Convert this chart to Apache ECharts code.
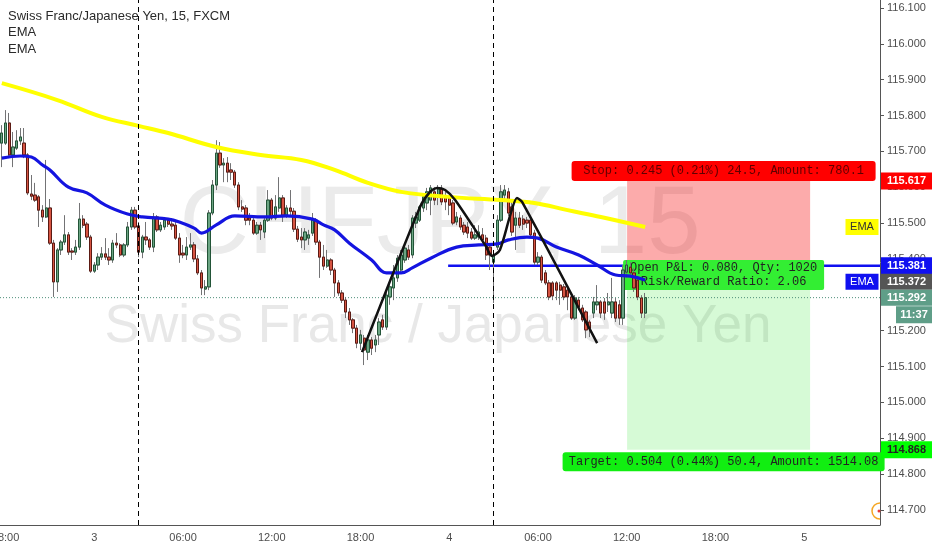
<!DOCTYPE html>
<html><head><meta charset="utf-8">
<script src="https://cdn.jsdelivr.net/npm/echarts@6/dist/echarts.min.js"></script>
<style>html,body{margin:0;padding:0;background:#fff}#c{width:932px;height:550px}</style>
</head><body><div id="c"></div>
<script>
// ---- data (CHF/JPY 15m, FXCM) ----
const open = [115.723,115.723,115.779,115.690,115.709,115.729,115.723,115.690,115.581,115.578,
115.573,115.536,115.517,115.542,115.444,115.336,115.425,115.447,115.467,115.422,
115.419,115.433,115.511,115.497,115.461,115.366,115.383,115.405,115.414,115.405,
115.397,115.444,115.439,115.411,115.439,115.489,115.536,115.492,115.419,115.461,
115.453,115.433,115.517,115.481,115.489,115.508,115.497,115.494,115.458,115.416,
115.411,115.433,115.439,115.400,115.361,115.316,115.322,115.528,115.606,115.695,
115.662,115.667,115.648,115.642,115.606,115.545,115.542,115.514,115.508,115.472,
115.494,115.475,115.508,115.564,115.514,115.542,115.570,115.522,115.542,115.533,
115.483,115.461,115.453,115.458,115.472,115.508,115.447,115.405,115.380,115.397,
115.369,115.333,115.305,115.285,115.252,115.230,115.207,115.165,115.179,115.140,
115.174,115.160,115.188,115.230,115.210,115.294,115.319,115.347,115.369,115.397,
115.425,115.411,115.500,115.508,115.542,115.556,115.564,115.587,115.578,115.595,
115.573,115.570,115.556,115.503,115.514,115.494,115.489,115.475,115.458,115.461,
115.467,115.458,115.433,115.391,115.433,115.508,115.578,115.587,115.545,115.494,
115.514,115.511,115.508,115.508,115.472,115.391,115.405,115.361,115.333,115.333,
115.333,115.327,115.322,115.313,115.294,115.235,115.285,115.263,115.252,115.224,
115.249,115.272,115.280,115.280,115.272,115.249,115.280,115.272,115.235,115.363,
115.377,115.361,115.341,115.291,115.249];
const close = [115.751,115.779,115.690,115.712,115.729,115.740,115.690,115.584,115.575,115.564,
115.536,115.517,115.542,115.444,115.336,115.425,115.447,115.467,115.419,115.419,
115.433,115.511,115.494,115.461,115.366,115.383,115.405,115.414,115.405,115.397,
115.444,115.439,115.411,115.439,115.489,115.536,115.489,115.419,115.461,115.453,
115.433,115.517,115.481,115.494,115.508,115.497,115.492,115.458,115.411,115.411,
115.433,115.439,115.400,115.361,115.319,115.322,115.528,115.606,115.695,115.662,
115.667,115.642,115.642,115.606,115.545,115.539,115.508,115.508,115.472,115.494,
115.481,115.508,115.564,115.514,115.545,115.570,115.522,115.542,115.533,115.483,
115.455,115.453,115.475,115.467,115.508,115.447,115.405,115.380,115.397,115.369,
115.333,115.305,115.285,115.252,115.230,115.207,115.165,115.188,115.146,115.174,
115.151,115.174,115.224,115.210,115.299,115.322,115.347,115.402,115.411,115.430,
115.405,115.514,115.517,115.545,115.573,115.587,115.598,115.564,115.595,115.559,
115.559,115.550,115.500,115.517,115.489,115.475,115.472,115.458,115.467,115.475,
115.453,115.411,115.411,115.411,115.508,115.587,115.592,115.528,115.475,115.514,
115.494,115.497,115.500,115.467,115.391,115.405,115.341,115.333,115.294,115.297,
115.313,115.313,115.294,115.294,115.235,115.291,115.266,115.230,115.202,115.207,
115.280,115.280,115.249,115.249,115.280,115.280,115.235,115.235,115.369,115.383,
115.361,115.319,115.294,115.249,115.292];
const low = [115.656,115.718,115.681,115.656,115.704,115.718,115.681,115.578,115.564,115.559,
115.489,115.503,115.514,115.439,115.294,115.308,115.411,115.439,115.411,115.397,
115.411,115.425,115.486,115.453,115.361,115.361,115.369,115.397,115.397,115.383,
115.389,115.430,115.405,115.405,115.433,115.481,115.483,115.405,115.402,115.439,
115.425,115.419,115.475,115.475,115.481,115.489,115.481,115.453,115.389,115.402,
115.397,115.425,115.391,115.355,115.299,115.299,115.313,115.522,115.592,115.654,
115.614,115.614,115.620,115.598,115.536,115.531,115.494,115.494,115.467,115.467,
115.453,115.458,115.503,115.508,115.508,115.531,115.503,115.514,115.522,115.475,
115.447,115.430,115.425,115.439,115.464,115.439,115.347,115.369,115.375,115.355,
115.294,115.297,115.277,115.235,115.216,115.193,115.151,115.146,115.104,115.118,
115.132,115.140,115.160,115.202,115.202,115.272,115.285,115.336,115.363,115.389,
115.397,115.402,115.486,115.503,115.531,115.536,115.522,115.550,115.550,115.550,
115.536,115.522,115.494,115.494,115.481,115.467,115.458,115.453,115.453,115.453,
115.444,115.397,115.369,115.277,115.425,115.503,115.564,115.520,115.464,115.425,
115.486,115.481,115.486,115.458,115.383,115.383,115.333,115.327,115.285,115.285,
115.285,115.272,115.285,115.257,115.230,115.230,115.257,115.224,115.179,115.182,
115.235,115.257,115.235,115.230,115.252,115.235,115.224,115.216,115.216,115.347,
115.347,115.308,115.285,115.235,115.235];
const high = [115.773,115.815,115.807,115.754,115.759,115.765,115.765,115.695,115.634,115.612,
115.578,115.550,115.676,115.567,115.453,115.430,115.453,115.522,115.475,115.430,
115.453,115.556,115.522,115.503,115.467,115.391,115.416,115.433,115.458,115.430,
115.453,115.472,115.444,115.444,115.503,115.545,115.545,115.503,115.467,115.503,
115.458,115.528,115.522,115.503,115.517,115.514,115.514,115.503,115.472,115.439,
115.461,115.472,115.447,115.411,115.369,115.341,115.536,115.620,115.731,115.726,
115.681,115.684,115.667,115.648,115.614,115.564,115.550,115.528,115.514,115.503,
115.503,115.514,115.592,115.570,115.578,115.628,115.578,115.550,115.592,115.542,
115.492,115.486,115.486,115.481,115.528,115.514,115.453,115.439,115.425,115.402,
115.375,115.341,115.313,115.294,115.263,115.235,115.216,115.202,115.188,115.188,
115.182,115.188,115.235,115.244,115.313,115.341,115.383,115.411,115.425,115.439,
115.439,115.522,115.531,115.550,115.578,115.598,115.606,115.600,115.606,115.606,
115.587,115.578,115.564,115.531,115.522,115.503,115.503,115.486,115.494,115.494,
115.486,115.467,115.439,115.425,115.522,115.606,115.606,115.598,115.564,115.531,
115.531,115.522,115.517,115.514,115.481,115.419,115.411,115.369,115.341,115.338,
115.338,115.336,115.330,115.319,115.299,115.299,115.294,115.272,115.257,115.230,
115.294,115.327,115.285,115.291,115.305,115.347,115.291,115.285,115.383,115.397,
115.391,115.375,115.352,115.299,115.305];

// EMA lines: [bar index, price]
const emaSlow = [[0,115.890],[15,115.843],[27,115.796],[37,115.771],[45,115.751],[58,115.712],[70,115.690],
[81,115.676],[90,115.648],[99,115.612],[108,115.587],[121,115.573],[135,115.564],[144,115.556],[153,115.536],
[162,115.517],[174,115.489]];
const emaFast = [[0,115.681],[5,115.687],[8,115.684],[11,115.662],[13,115.648],[18,115.600],[23,115.584],
[28,115.550],[34,115.525],[38,115.517],[45,115.511],[48,115.503],[52,115.486],[54,115.472],[58,115.495],
[63,115.520],[71,115.517],[77,115.520],[84,115.511],[87,115.495],[90,115.481],[94,115.444],[100,115.397],
[104,115.361],[108,115.361],[111,115.375],[116,115.402],[123,115.433],[129,115.439],[134,115.442],
[137,115.453],[142,115.461],[145,115.458],[150,115.433],[156,115.411],[161,115.383],[166,115.355],
[170,115.352],[174,115.341]];

// drawings
const trendPath = [[97.4,115.140],[113.1,115.545],[115.8,115.587],[117.7,115.598],[119.9,115.592],
[122.6,115.564],[130.7,115.439],[132.6,115.408],[134.7,115.425],[137.5,115.522],[139.3,115.570],
[140.7,115.559],[161.0,115.165]];
const sessionBreaks = [37, 133];
const hLineFrom = 120.7, hLineTo = 237.5, hLinePrice = 115.381;
const posX0 = 169.1, posX1 = 218.6;
const entryPrice = 115.372, stopPrice = 115.617, targetPrice = 114.868;
const emaFastLast = 115.372;

const yTicks = [114.7,114.8,114.9,115.0,115.1,115.2,115.3,115.4,115.5,115.6,115.7,115.8,115.9,116.0,116.1];
const yMin = 114.658, yMax = 116.122;

const stopText = 'Stop: 0.245 (0.21%) 24.5, Amount: 780.1';
const targetText = 'Target: 0.504 (0.44%) 50.4, Amount: 1514.08';
const pnlText = 'Open P&L: 0.080, Qty: 1020\nRisk/Reward Ratio: 2.06';
const legendLines = ['Swiss Franc/Japanese Yen, 15, FXCM', 'EMA', 'EMA'];
const countdown = '11:37';

// categories: 15-minute bars from day 2, 17:45
const startMinutes = 17 * 60 + 45, startDay = 2, nBars = 238;
const categories = [];
for (let i = 0; i < nBars; i++) {
  const t = startMinutes + 15 * i;
  const d = startDay + Math.floor(t / 1440);
  const m = t % 1440;
  const hh = String(Math.floor(m / 60)).padStart(2, '0');
  const mm = String(m % 60).padStart(2, '0');
  categories.push(m === 0 ? String(d) : hh + ':' + mm);
}
function isTick(idx) { return ((startMinutes + 15 * idx) % 1440) % 360 === 0; }

const ohlc = open.map((o, i) => [o, close[i], low[i], high[i]]);
const bodies = open.map((o, i) => [o, close[i], Math.min(o, close[i]), Math.max(o, close[i])]);
const lastPrice = close[close.length - 1];

const FONT = '"Liberation Sans", Arial, sans-serif';
const MONO = '"Liberation Mono", "Courier New", monospace';

const chart = echarts.init(document.getElementById('c'), null, {renderer: 'canvas'});
chart.setOption({
  animation: false,
  backgroundColor: '#ffffff',
  grid: {left: 0, right: 52, top: 0, bottom: 25, containLabel: false, outerBoundsMode: 'none'},
  xAxis: [{
    type: 'category', data: categories, boundaryGap: true,
    axisLine: {onZero: false, lineStyle: {color: '#555', width: 1}},
    axisTick: {interval: (i) => isTick(i), alignWithLabel: true, length: 4, lineStyle: {color: '#555'}},
    axisLabel: {interval: (i) => isTick(i), color: '#4d4d4d', fontSize: 11, fontFamily: FONT, margin: 7},
    splitLine: {show: false}
  }, {
    type: 'value', min: -0.5, max: nBars - 0.5, show: false
  }],
  yAxis: {
    type: 'value', position: 'right', min: yMin, max: yMax,
    axisLine: {show: true, onZero: false, lineStyle: {color: '#555', width: 1}},
    axisTick: {show: true, length: 4, customValues: yTicks, lineStyle: {color: '#555'}},
    axisLabel: {customValues: yTicks, formatter: (v) => Number(v).toFixed(3), color: '#4d4d4d', fontSize: 11, fontFamily: FONT, margin: 7},
    splitLine: {show: false}
  },
  series: [
    {
      type: 'candlestick', name: 'wicks', data: ohlc, barWidth: 2.8, z: 2,
      itemStyle: {color: 'rgba(0,0,0,0)', color0: 'rgba(0,0,0,0)', borderColor: '#737375', borderColor0: '#737375', borderWidth: 1},
      markLine: {
        silent: true, symbol: ['none', 'none'], label: {show: false},
        lineStyle: {color: '#000', type: [5, 4], width: 1},
        data: sessionBreaks.map(v => ({xAxis: v}))
      }
    },
    {
      type: 'candlestick', name: 'CHFJPY', data: bodies, barWidth: 2.8, z: 2,
      itemStyle: {color: '#6ba583', color0: '#d75442', borderColor: '#225437', borderColor0: '#5b1a13', borderWidth: 1}
    },
    {
      type: 'line', xAxisIndex: 1, data: [[-0.5, lastPrice], [nBars - 0.5, lastPrice]], z: 1,
      showSymbol: false, lineStyle: {color: '#4e8f7a', width: 1, type: [1, 2]}
    },
    {
      type: 'line', xAxisIndex: 1, data: [[hLineFrom, hLinePrice], [hLineTo, hLinePrice]], z: 0,
      showSymbol: false, lineStyle: {color: '#1010f0', width: 2.5}
    },
    {
      type: 'line', name: 'EMA slow', xAxisIndex: 1, data: emaSlow, smooth: 0.4, z: 3,
      showSymbol: false, lineStyle: {color: '#ffff00', width: 4}
    },
    {
      type: 'line', name: 'EMA fast', xAxisIndex: 1, data: emaFast, smooth: 0.4, z: 3,
      showSymbol: false, lineStyle: {color: '#1414e0', width: 3.2}
    },
    {
      type: 'line', name: 'drawing', xAxisIndex: 1, data: trendPath, smooth: 0.25, z: 4,
      showSymbol: false, lineStyle: {color: '#111', width: 2.5}
    }
  ]
});

function X(v) { return chart.convertToPixel({xAxisIndex: 1}, v); }
function Y(v) { return chart.convertToPixel({yAxisIndex: 0}, v); }

const g = [];
function label(cx, cy, w, h, fill, text, color, font, z, r) {
  g.push({type: 'rect', z: z, shape: {x: cx - w / 2, y: cy - h / 2, width: w, height: h, r: r || 0}, style: {fill: fill}});
  g.push({type: 'text', z: z, style: {text: text, x: cx, y: cy, fill: color, font: font, align: 'center', verticalAlign: 'middle', textAlign: 'center', textVerticalAlign: 'middle', lineHeight: 14}});
}

// watermarks
g.push({type: 'text', z: 0, style: {text: 'CHFJPY, 15', x: 440, y: 227, fill: '#ebebeb', font: '96px ' + FONT, align: 'center', verticalAlign: 'middle'}});
g.push({type: 'text', z: 0, style: {text: 'Swiss Franc / Japanese Yen', x: 438, y: 327, fill: '#e8e8e8', font: '53px ' + FONT, align: 'center', verticalAlign: 'middle'}});

// position zones
const px0 = X(posX0), px1 = X(posX1);
const yStop = Y(stopPrice), yEntry = Y(entryPrice), yTarget = Y(targetPrice);
g.push({type: 'rect', z: 1, shape: {x: px0, y: yStop, width: px1 - px0, height: yEntry - yStop}, style: {fill: 'rgba(245,0,0,0.33)'}});
g.push({type: 'rect', z: 1, shape: {x: px0, y: yEntry, width: px1 - px0, height: yTarget - yEntry}, style: {fill: 'rgba(0,225,0,0.16)'}});
const cx = (px0 + px1) / 2 + 5;
label(cx, yStop - 10, 304, 20, '#ff0000', stopText, 'rgba(40,0,0,0.75)', '12px ' + MONO, 1, 3);
label(cx, yEntry + 6, 201, 30, '#33ee33', pnlText, '#222', '12px ' + MONO, 1, 2);
label(cx, yTarget + 12, 322, 19, '#11ee11', targetText, '#222', '12px ' + MONO, 1, 3);

// right-axis value labels
const AX = 881, AW = 51;
const yBlue = Y(hLinePrice);
label(AX + AW / 2, Y(stopPrice), AW, 17, '#ff0000', stopPrice.toFixed(3), '#fff', 'bold 11px ' + FONT, 20);
label(AX + AW / 2, yBlue, AW, 17, '#1010f0', hLinePrice.toFixed(3), '#fff', 'bold 11px ' + FONT, 20);
label(AX + AW / 2, yBlue + 16, AW, 16, '#555555', emaFastLast.toFixed(3), '#fff', 'bold 11px ' + FONT, 20);
label(AX + AW / 2, Y(lastPrice), AW, 16, '#5f9e88', lastPrice.toFixed(3), '#fff', 'bold 11px ' + FONT, 20);
label(914, Y(lastPrice) + 17, 36, 17, '#5f9e88', countdown, '#fff', 'bold 11px ' + FONT, 20);
label(AX + AW / 2, Y(targetPrice), AW, 17, '#00ff00', targetPrice.toFixed(3), '#222', 'bold 11px ' + FONT, 20);
label(862, Y(emaSlow[emaSlow.length - 1][1]), 33, 16, '#ffff00', 'EMA', '#333', '11px ' + FONT, 20);
label(862, yBlue + 16, 33, 16, '#1010f0', 'EMA', '#fff', '11px ' + FONT, 20);

// legend (top-left)
legendLines.forEach((t, i) => {
  g.push({type: 'text', z: 20, style: {text: t, x: 8, y: 16 + i * 16.5, fill: '#2a2a2a', font: '13px ' + FONT, verticalAlign: 'middle'}});
});

// small icon bottom-right
g.push({type: 'arc', z: 20, shape: {cx: 880, cy: 511, r: 8, startAngle: Math.PI / 2, endAngle: Math.PI * 1.5, clockwise: true}, style: {stroke: '#f5a623', lineWidth: 1.5, fill: 'none'}});
g.push({type: 'circle', z: 20, shape: {cx: 879, cy: 511, r: 1.5}, style: {fill: '#e53935'}});

chart.setOption({graphic: g});
</script>
</body></html>
